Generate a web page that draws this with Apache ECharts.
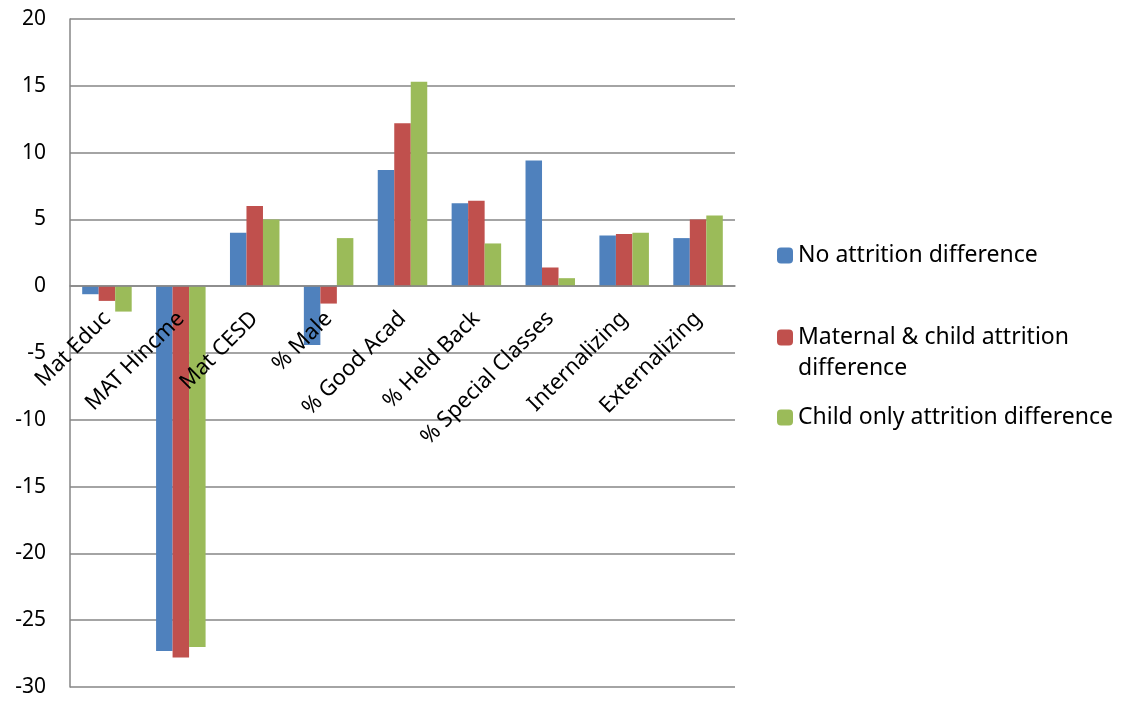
<!DOCTYPE html>
<html>
<head>
<meta charset="utf-8">
<script src="https://cdn.jsdelivr.net/npm/echarts@6/dist/echarts.min.js"></script>
<style>
html,body{margin:0;padding:0;background:#fff;}
#chart{width:1121px;height:704px;}
</style>
</head>
<body>
<div id="chart"></div>
<script>
var categories = ['Mat Educ', 'MAT Hincme', 'Mat CESD', '% Male', '% Good Acad', '% Held Back', '% Special Classes', 'Internalizing', 'Externalizing'];
var seriesNames = ['No attrition difference', 'Maternal & child attrition difference', 'Child only attrition difference'];
var noAttrition = [-0.6, -27.3, 4.0, -4.4, 8.7, 6.2, 9.4, 3.8, 3.6];
var maternalChild = [-1.1, -27.8, 6.0, -1.3, 12.2, 6.4, 1.4, 3.9, 5.0];
var childOnly = [-1.9, -27.0, 5.0, 3.6, 15.3, 3.2, 0.6, 4.0, 5.3];
var colors = ['#4f81bd', '#c0504d', '#9bbb59'];

var font = 'Noto Sans';
var myChart = echarts.init(document.getElementById('chart'));

var mkSeries = function(name, data, i){
	return {
		name: name,
		type: 'bar',
		data: data,
		barGap: '0%',
		barCategoryGap: '33%',
		itemStyle: {color: colors[i]}
	};
};

var legendText = {fontFamily: font, fontSize: 23, color: '#000', lineHeight: 31};

// x axis sits on the zero line: shift it up from the grid bottom
var plotTop = 19, plotBottom = 687, yMin = -30, yMax = 20;
var zeroOffset = -(plotBottom - plotTop) * (0 - yMin) / (yMax - yMin);

var option = {
	animation: false,
	grid: {left: 70, right: 386, top: plotTop, bottom: 704 - plotBottom, outerBoundsMode: 'none'},
	xAxis: {
		type: 'category',
		data: categories,
		z: 5,
		offset: zeroOffset,
		axisLine: {onZero: false, lineStyle: {color: '#868686', width: 1.5}},
		axisTick: {show: false},
		axisLabel: {rotate: 45, interval: 0, margin: 29, fontFamily: font, fontSize: 22, color: '#000'}
	},
	yAxis: {
		type: 'value',
		min: yMin,
		max: yMax,
		interval: 5,
		axisLine: {show: true, lineStyle: {color: '#868686', width: 1.5}},
		axisTick: {show: false},
		splitLine: {lineStyle: {color: '#868686', width: 1.5}},
		axisLabel: {margin: 24, fontFamily: font, fontSize: 21, color: '#000'}
	},
	legend: [
		{orient: 'vertical', left: 777, top: 240, padding: 0, itemWidth: 16, itemHeight: 16,
			data: [seriesNames[0]], textStyle: legendText, itemStyle: {borderWidth: 0}},
		{orient: 'vertical', left: 777, top: 291, padding: 0, itemWidth: 16, itemHeight: 16,
			data: [seriesNames[1]], textStyle: legendText, itemStyle: {borderWidth: 0},
			formatter: function(n){ return ' \nMaternal & child attrition\ndifference'; }},
		{orient: 'vertical', left: 777, top: 402, padding: 0, itemWidth: 16, itemHeight: 16,
			data: [seriesNames[2]], textStyle: legendText, itemStyle: {borderWidth: 0}}
	],
	series: [
		mkSeries(seriesNames[0], noAttrition, 0),
		mkSeries(seriesNames[1], maternalChild, 1),
		mkSeries(seriesNames[2], childOnly, 2)
	]
};
myChart.setOption(option);
</script>
</body>
</html>
